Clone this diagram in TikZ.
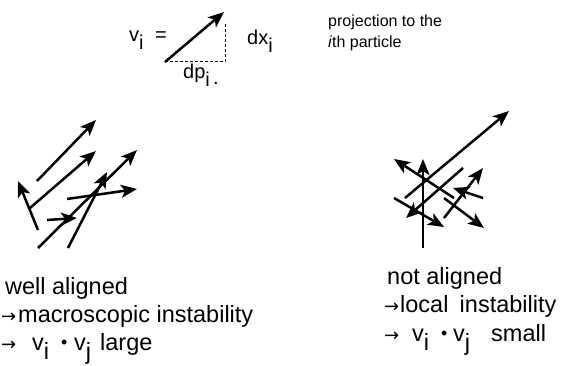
\documentclass[tikz,border=0pt]{standalone}
\usepackage{fontspec}
\setmainfont{Liberation Sans}
\newfontfamily\symf{DejaVu Sans}
\usetikzlibrary{arrows.meta}
\newcommand\subsc[1]{\raisebox{-0.38em}{#1}}
\newcommand\smallarr{\hspace{-1pt}\raisebox{0.02em}{\fontsize{18}{18}\symf →}}
\newcommand\dotop{\raisebox{0.1em}{\fontsize{18}{18}\selectfont •}}
\begin{document}
\begin{tikzpicture}[x=1pt,y=-1pt,
  vec/.style={line width=2.5pt,-{Stealth[length=16pt,width=13pt,inset=4pt]}},
  guide/.style={line width=1pt,dash pattern=on 3pt off 2pt},
  lbl/.style={anchor=base west,inner sep=0pt,font=\fontsize{23.5}{28}\selectfont},
  note/.style={anchor=base west,inner sep=0pt,font=\fontsize{16}{20}\selectfont},
  frm/.style={anchor=base west,inner sep=0pt,font=\fontsize{20}{24}\selectfont}]
\useasboundingbox (0,0) rectangle (574,366);

% ---- top formula ----
\node[frm] (vi) at (129,42) {v\subsc{i}};
\node[frm] (eq) at (155,42) {=};
\coordinate (t0) at (165,62);
\coordinate (t1) at (224,12);
\coordinate (tc) at (225,62);
\coordinate (tt) at (225,22);
\draw[guide] (t0) -- (tc) -- (tt);
\draw[vec] (t0) -- (t1);
\node[frm] (dx) at (247,45) {dx\subsc{i}};
\node[frm] (dp) at (183,79) {dp\subsc{i}\,\raisebox{-0.3em}{.}};
\node[note] (proj1) at (328,27) {projection to the};
\node[note] (proj2) at (328,48) {\textit{i}th particle};

% ---- left cluster: well aligned ----
\foreach \n/\ax/\ay/\bx/\by in {
  a1/37/181/96/120,
  a2/30/208/96/151,
  a3/38/248/137/150,
  a4/68/248/107/172,
  a5/67/199/137/189,
  a6/47/220/77/218,
  a7/38/230/18/181}{
  \coordinate (\n s) at (\ax,\ay);
  \coordinate (\n e) at (\bx,\by);
  \draw[vec] (\n s) -- (\n e);
}

% ---- right cluster: not aligned ----
\foreach \n/\ax/\ay/\bx/\by in {
  b1/405/198/509/111,
  b2/423/248/423/159,
  b3/454/198/394/159,
  b4/463/168/406/218,
  b5/394/198/444/227,
  b6/444/198/484/228,
  b7/444/218/483/168,
  b8/483/198/453/188}{
  \coordinate (\n s) at (\ax,\ay);
  \coordinate (\n e) at (\bx,\by);
  \draw[vec] (\n s) -- (\n e);
}

% ---- captions ----
\node[lbl] (l1) at (5,295) {well aligned};
\node[lbl] (l2) at (2,323) {\makebox[16pt][l]{\smallarr}macroscopic instability};
\node[lbl] (l3) at (2,351) {\makebox[30pt][l]{\smallarr}\makebox[29pt][l]{v\subsc{i}}\makebox[13pt][l]{\dotop}\makebox[26pt][l]{v\subsc{j}}large};

\node[lbl] (r1) at (387,285) {not aligned};
\node[lbl] (r2) at (385,313) {\makebox[15pt][l]{\smallarr}local\hspace{0.2em} instability};
\node[lbl] (r3) at (385,342) {\makebox[27pt][l]{\smallarr}\makebox[29pt][l]{v\subsc{i}}\makebox[12pt][l]{\dotop}\makebox[38pt][l]{v\subsc{j}}small};
\end{tikzpicture}
\end{document}
